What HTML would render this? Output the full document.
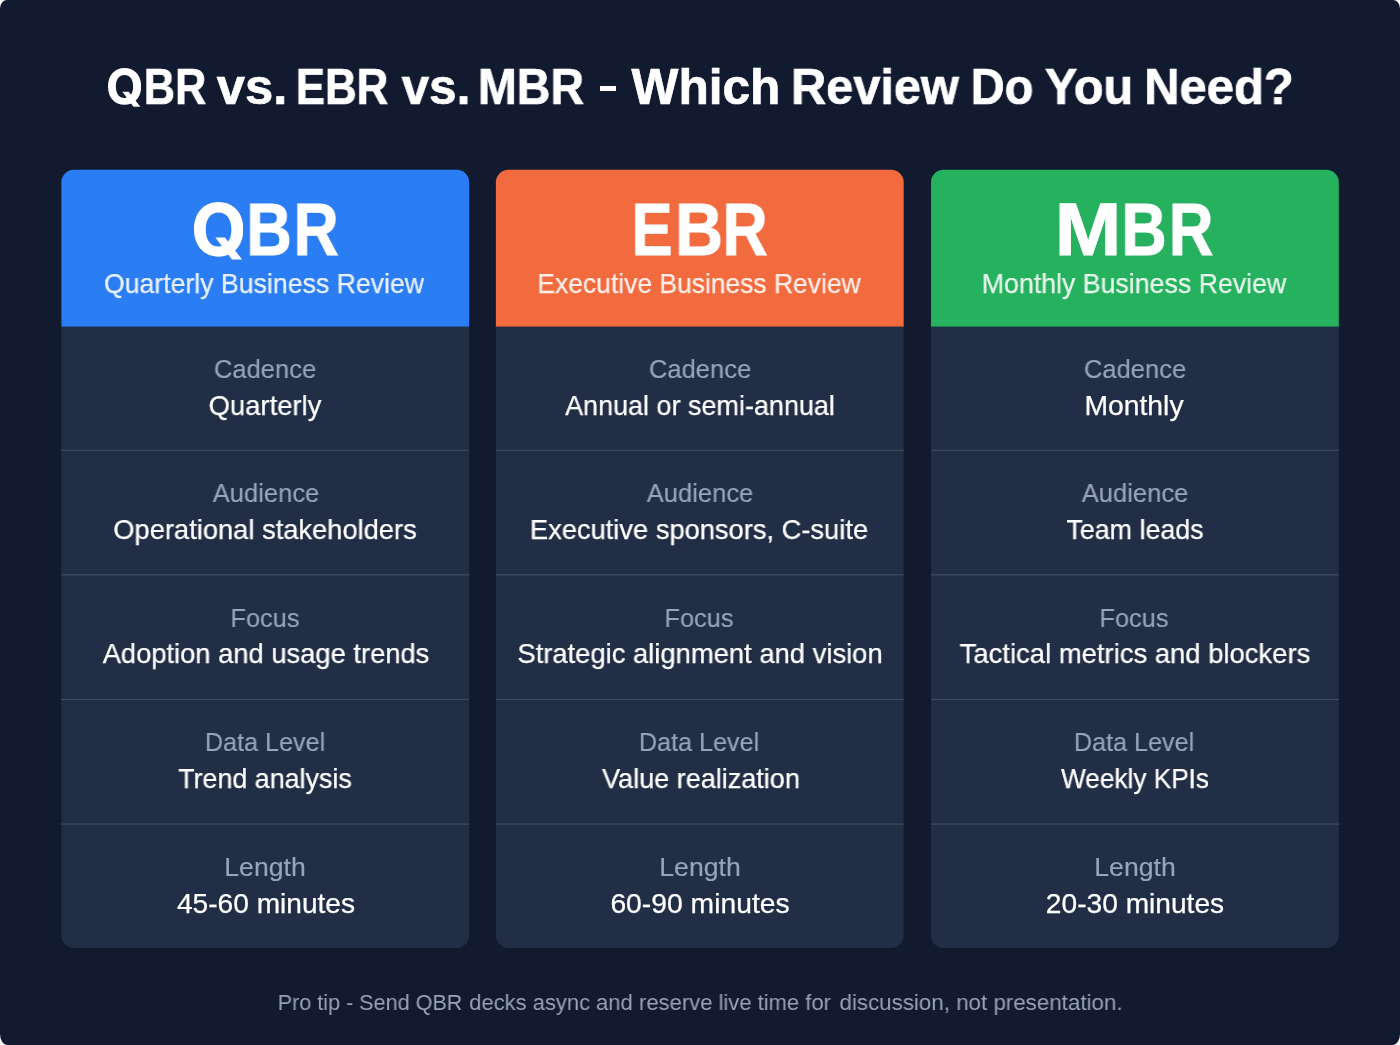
<!DOCTYPE html>
<html lang="en">
<head>
<meta charset="utf-8">
<title>QBR vs. EBR vs. MBR - Which Review Do You Need?</title>
<style>
  html, body { margin: 0; padding: 0; background: #ffffff; }
  body { width: 1400px; height: 1045px; overflow: hidden; position: relative; font-family: "Liberation Sans", sans-serif; }
  .page { position: absolute; left: 0; top: 0; width: 1400px; height: 1045px; border-radius: 7px 7px 7px 7px / 8.5px 8.5px 11px 11px; overflow: hidden; background: #121a30; }
  .bgsvg, .q { position: absolute; }
  .bgsvg { left: 0; top: 0; }
  .dash { position: absolute; left: 599.6px; top: 86.1px; width: 16.1px; height: 5.3px; background: #ffffff; }
  .t, .ph { position: absolute; display: block; white-space: nowrap; text-align: center; width: 600px; margin-left: -300px; will-change: transform; }
  .tw { font-weight: bold; font-size: 49.6px; height: 64px; line-height: 64px; color: #ffffff; -webkit-text-stroke: 0.7px #ffffff; }
  .ab { font-weight: bold; font-size: 75px; height: 98px; line-height: 98px; color: #ffffff; -webkit-text-stroke: 1px #ffffff; }
  .sub { font-size: 28px; height: 36px; line-height: 36px; -webkit-text-stroke-width: 0.25px; }
  .s0 { color: #e8f1fe; -webkit-text-stroke-color: #e8f1fe; } .s1 { color: #feefe9; -webkit-text-stroke-color: #feefe9; } .s2 { color: #e7f6ed; -webkit-text-stroke-color: #e7f6ed; }
  .lab { font-size: 26.4px; height: 34px; line-height: 34px; color: #98a4bb; -webkit-text-stroke: 0.15px #98a4bb; }
  .val { font-size: 28px; height: 36px; line-height: 36px; color: #ffffff; -webkit-text-stroke: 0.25px #ffffff; }
  .tip { font-size: 22.8px; height: 30px; line-height: 30px; color: #98a1b7; }
  .ph { color: transparent; -webkit-text-stroke: 0 transparent; }
</style>
</head>
<body>
<div class="page">
<svg class="bgsvg" width="1400" height="1045" viewBox="0 0 1400 1045">
<clipPath id="cp0"><rect x="61.4" y="169.8" width="407.8" height="778.20" rx="12.5" ry="12.5"/></clipPath><g clip-path="url(#cp0)"><rect x="60.4" y="326.6" width="409.8" height="622.40" fill="#212e46"/><rect x="60.4" y="168.8" width="409.8" height="157.80" fill="#2b7df3"/><rect x="60.4" y="449.65" width="409.8" height="1.3" fill="#3c495f"/><rect x="60.4" y="574.15" width="409.8" height="1.3" fill="#3c495f"/><rect x="60.4" y="698.80" width="409.8" height="1.3" fill="#3c495f"/><rect x="60.4" y="823.45" width="409.8" height="1.3" fill="#3c495f"/></g>
<clipPath id="cp1"><rect x="495.9" y="169.8" width="407.8" height="778.20" rx="12.5" ry="12.5"/></clipPath><g clip-path="url(#cp1)"><rect x="494.9" y="326.6" width="409.8" height="622.40" fill="#212e46"/><rect x="494.9" y="168.8" width="409.8" height="157.80" fill="#f26b3f"/><rect x="494.9" y="449.65" width="409.8" height="1.3" fill="#3c495f"/><rect x="494.9" y="574.15" width="409.8" height="1.3" fill="#3c495f"/><rect x="494.9" y="698.80" width="409.8" height="1.3" fill="#3c495f"/><rect x="494.9" y="823.45" width="409.8" height="1.3" fill="#3c495f"/></g>
<clipPath id="cp2"><rect x="931.0" y="169.8" width="407.8" height="778.20" rx="12.5" ry="12.5"/></clipPath><g clip-path="url(#cp2)"><rect x="930.0" y="326.6" width="409.8" height="622.40" fill="#212e46"/><rect x="930.0" y="168.8" width="409.8" height="157.80" fill="#26b15f"/><rect x="930.0" y="449.65" width="409.8" height="1.3" fill="#3c495f"/><rect x="930.0" y="574.15" width="409.8" height="1.3" fill="#3c495f"/><rect x="930.0" y="698.80" width="409.8" height="1.3" fill="#3c495f"/><rect x="930.0" y="823.45" width="409.8" height="1.3" fill="#3c495f"/></g>
</svg>
<h1 style="margin:0;font-size:inherit;font-weight:inherit">
<span class="ph tw" style="left:124.5px;top:50.0px">Q</span><svg class="q" style="left:107.90px;top:68.40px" width="33.20" height="38.98" viewBox="0 0 49.4 58.0"><path fill="#ffffff" fill-rule="evenodd" d="M0.00,27.35 C0.00,10.94 9.88,0.00 24.70,0.00 C39.52,0.00 49.40,10.94 49.40,27.35 C49.40,43.76 39.52,54.70 24.70,54.70 C9.88,54.70 0.00,43.76 0.00,27.35 Z M11.70,27.50 C11.70,16.90 16.58,10.40 24.55,10.40 C32.52,10.40 37.40,16.90 37.40,27.50 C37.40,38.10 32.52,44.60 24.55,44.60 C16.58,44.60 11.70,38.10 11.70,27.50 Z"/><polygon fill="#ffffff" points="21.4,35.5 30.9,35.5 48.1,57.6 38,57.6"/></svg><span class="t tw" id="tw0" style="left:175px;top:55.4px;transform:scaleX(0.8724);">BR</span>
<span class="t tw" id="tw1" style="left:252px;top:55.4px;transform:scaleX(1.0221);">vs.</span>
<span class="t tw" id="tw2" style="left:342px;top:55.4px;transform:scaleX(0.8851);">EBR</span>
<span class="t tw" id="tw3" style="left:436px;top:55.4px;transform:scaleX(0.9941);">vs.</span>
<span class="t tw" id="tw4" style="left:531px;top:55.4px;transform:scaleX(0.9383);">MBR</span>
<span class="ph tw" style="left:607.6px;top:50.0px">-</span><i class="dash"></i>
<span class="t tw" id="tw5" style="left:706px;top:55.4px;transform:scaleX(1.0005);">Which</span>
<span class="t tw" id="tw6" style="left:875px;top:55.4px;transform:scaleX(0.9819);">Review</span>
<span class="t tw" id="tw7" style="left:1002px;top:55.4px;transform:scaleX(0.9515);">Do</span>
<span class="t tw" id="tw8" style="left:1089px;top:55.4px;transform:scaleX(0.9808);">You</span>
<span class="t tw" id="tw9" style="left:1219px;top:55.4px;transform:scaleX(0.9869);">Need?</span>
</h1>
<section>
<h2 style="margin:0;font-size:inherit;font-weight:inherit"><span class="ph ab" style="left:218.3px;top:180.0px">Q</span><svg class="q" style="left:193.60px;top:201.50px" width="49.40" height="58.00" viewBox="0 0 49.4 58.0"><path fill="#ffffff" fill-rule="evenodd" d="M0.00,27.35 C0.00,10.94 9.88,0.00 24.70,0.00 C39.52,0.00 49.40,10.94 49.40,27.35 C49.40,43.76 39.52,54.70 24.70,54.70 C9.88,54.70 0.00,43.76 0.00,27.35 Z M11.70,27.50 C11.70,16.90 16.58,10.40 24.55,10.40 C32.52,10.40 37.40,16.90 37.40,27.50 C37.40,38.10 32.52,44.60 24.55,44.60 C16.58,44.60 11.70,38.10 11.70,27.50 Z"/><polygon fill="#ffffff" points="21.4,35.5 30.9,35.5 48.1,57.6 38,57.6"/></svg><span class="t ab" id="abbr00" style="left:269px;top:180.1px;transform:scaleX(0.8420);">B</span><span class="t ab" id="abbr01" style="left:316px;top:180.1px;transform:scaleX(0.8357);">R</span></h2>
<div class="t sub s0" id="sub0" style="left:264px;top:265.9px;transform:scaleX(0.9525);">Quarterly Business Review</div>
<div><span class="t lab" id="lab00" style="left:265px;top:352.4px;transform:scaleX(0.9685);">Cadence</span> <span class="t val" id="val00" style="left:265px;top:388.0px;transform:scaleX(0.9805);">Quarterly</span></div>
<div><span class="t lab" id="lab01" style="left:266px;top:476.1px;transform:scaleX(0.9688);">Audience</span> <span class="t val" id="val01" style="left:265px;top:511.7px;transform:scaleX(0.9744);">Operational stakeholders</span></div>
<div><span class="t lab" id="lab02" style="left:265px;top:600.6px;transform:scaleX(0.9608);">Focus</span> <span class="t val" id="val02" style="left:266px;top:636.2px;transform:scaleX(0.9760);">Adoption and usage trends</span></div>
<div><span class="t lab" id="lab03" style="left:265px;top:725.2px;transform:scaleX(0.9541);">Data Level</span> <span class="t val" id="val03" style="left:265px;top:760.8px;transform:scaleX(0.9592);">Trend analysis</span></div>
<div><span class="t lab" id="lab04" style="left:265px;top:849.9px;transform:scaleX(1.0079);">Length</span> <span class="t val" id="val04" style="left:266px;top:885.5px;transform:scaleX(1.0036);">45-60 minutes</span></div>
</section>
<section>
<h2 style="margin:0;font-size:inherit;font-weight:inherit"><span class="t ab" id="abbr10" style="left:652px;top:180.1px;transform:scaleX(0.8216);">E</span><span class="t ab" id="abbr11" style="left:699px;top:180.1px;transform:scaleX(0.8873);">B</span><span class="t ab" id="abbr12" style="left:745px;top:180.1px;transform:scaleX(0.8357);">R</span></h2>
<div class="t sub s1" id="sub1" style="left:699px;top:265.9px;transform:scaleX(0.9440);">Executive Business Review</div>
<div><span class="t lab" id="lab10" style="left:700px;top:352.4px;transform:scaleX(0.9685);">Cadence</span> <span class="t val" id="val10" style="left:700px;top:388.0px;transform:scaleX(0.9629);">Annual or semi-annual</span></div>
<div><span class="t lab" id="lab11" style="left:700px;top:476.1px;transform:scaleX(0.9688);">Audience</span> <span class="t val" id="val11" style="left:699px;top:511.7px;transform:scaleX(0.9746);">Executive sponsors, C-suite</span></div>
<div><span class="t lab" id="lab12" style="left:699px;top:600.6px;transform:scaleX(0.9608);">Focus</span> <span class="t val" id="val12" style="left:700px;top:636.2px;transform:scaleX(0.9778);">Strategic alignment and vision</span></div>
<div><span class="t lab" id="lab13" style="left:699px;top:725.2px;transform:scaleX(0.9541);">Data Level</span> <span class="t val" id="val13" style="left:701px;top:760.8px;transform:scaleX(0.9649);">Value realization</span></div>
<div><span class="t lab" id="lab14" style="left:700px;top:849.9px;transform:scaleX(1.0079);">Length</span> <span class="t val" id="val14" style="left:700px;top:885.5px;transform:scaleX(1.0101);">60-90 minutes</span></div>
</section>
<section>
<h2 style="margin:0;font-size:inherit;font-weight:inherit"><span class="t ab" id="abbr20" style="left:1088px;top:180.1px;transform:scaleX(1.0665);">M</span><span class="t ab" id="abbr21" style="left:1144px;top:180.1px;transform:scaleX(0.8371);">B</span><span class="t ab" id="abbr22" style="left:1191px;top:180.1px;transform:scaleX(0.8222);">R</span></h2>
<div class="t sub s2" id="sub2" style="left:1134px;top:265.9px;transform:scaleX(0.9544);">Monthly Business Review</div>
<div><span class="t lab" id="lab20" style="left:1135px;top:352.4px;transform:scaleX(0.9685);">Cadence</span> <span class="t val" id="val20" style="left:1134px;top:388.0px;transform:scaleX(1.0111);">Monthly</span></div>
<div><span class="t lab" id="lab21" style="left:1135px;top:476.1px;transform:scaleX(0.9688);">Audience</span> <span class="t val" id="val21" style="left:1135px;top:511.7px;transform:scaleX(0.9588);">Team leads</span></div>
<div><span class="t lab" id="lab22" style="left:1134px;top:600.6px;transform:scaleX(0.9608);">Focus</span> <span class="t val" id="val22" style="left:1135px;top:636.2px;transform:scaleX(0.9795);">Tactical metrics and blockers</span></div>
<div><span class="t lab" id="lab23" style="left:1134px;top:725.2px;transform:scaleX(0.9541);">Data Level</span> <span class="t val" id="val23" style="left:1135px;top:760.8px;transform:scaleX(0.9356);">Weekly KPIs</span></div>
<div><span class="t lab" id="lab24" style="left:1135px;top:849.9px;transform:scaleX(1.0079);">Length</span> <span class="t val" id="val24" style="left:1135px;top:885.5px;transform:scaleX(1.0048);">20-30 minutes</span></div>
</section>
<p style="margin:0"><span class="t tip" id="tip0" style="left:370px;top:986.9px;transform:scaleX(0.9464);">Pro tip - Send QBR</span> <span class="t tip" id="tip1" style="left:551px;top:986.9px;transform:scaleX(0.9622);">decks async and</span> <span class="t tip" id="tip2" style="left:735px;top:986.9px;transform:scaleX(0.9652);">reserve live time for</span> <span class="t tip" id="tip3" style="left:981px;top:986.9px;transform:scaleX(0.9796);">discussion, not presentation.</span></p>
</div>
</body>
</html>
